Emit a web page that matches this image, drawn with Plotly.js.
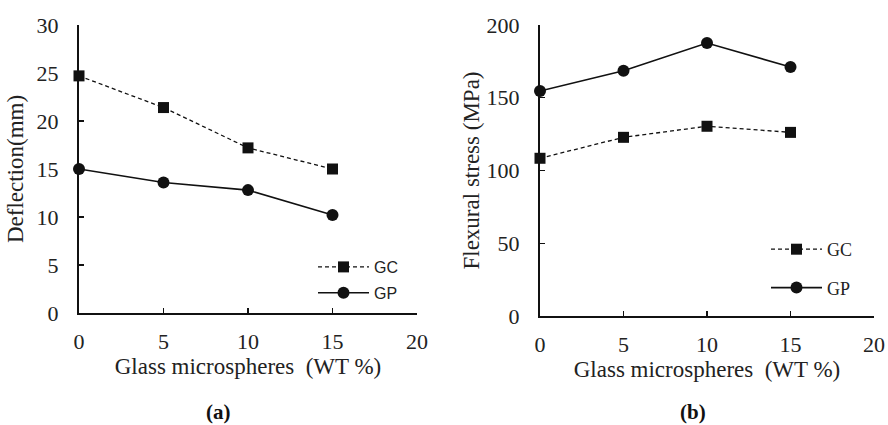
<!DOCTYPE html>
<html><head><meta charset="utf-8">
<script src="https://cdn.plot.ly/plotly-3.0.1.min.js"></script>
<style>html,body{margin:0;padding:0;background:#fff}</style>
</head><body><div id="chart" style="width:888px;height:425px"></div>
<script>
const wt = [0, 5, 10, 15];
const deflectionGC = [24.7, 21.4, 17.2, 15.0];
const deflectionGP = [15.0, 13.6, 12.8, 10.2];
const stressGC = [108.4, 122.8, 130.4, 126.2];
const stressGP = [154.6, 168.6, 187.6, 171.1];
const seriesNames = ['GC', 'GP'];
const xTitle = 'Glass microspheres\u00a0\u00a0(WT %)';
const yTitleA = 'Deflection(mm)';
const yTitleB = 'Flexural stress (MPa)';
const captions = ['<b>(a)</b>', '<b>(b)</b>'];

const serif = 'Liberation Serif, Times New Roman, serif';
const sans = 'Liberation Sans, Arial, sans-serif';
const ink = '#111';

function gc(x, y, xa, ya, lg) {
  return {x: x, y: y, xaxis: xa, yaxis: ya, name: seriesNames[0], legend: lg, legendgroup: lg + 'gc',
    type: 'scatter', mode: 'lines+markers', cliponaxis: false,
    line: {color: ink, width: 1.3, dash: '4px,3px'},
    marker: {symbol: 'square', size: 11, color: ink}};
}
function gp(x, y, xa, ya, lg) {
  return {x: x, y: y, xaxis: xa, yaxis: ya, name: seriesNames[1], legend: lg, legendgroup: lg + 'gp',
    type: 'scatter', mode: 'lines+markers', cliponaxis: false,
    line: {color: ink, width: 1.6},
    marker: {symbol: 'circle', size: 12, color: ink}};
}

const data = [
  gc(wt, deflectionGC, 'x', 'y', 'legend'),
  gp(wt, deflectionGP, 'x', 'y', 'legend'),
  gc(wt, stressGC, 'x2', 'y2', 'legend2'),
  gp(wt, stressGP, 'x2', 'y2', 'legend2')
];

function xax(dom, anchor) {
  return {domain: dom, anchor: anchor, range: [0, 20], dtick: 5, tick0: 0,
    showline: true, linewidth: 2, linecolor: ink, ticks: 'inside', ticklen: 5, tickwidth: 1.2, tickcolor: ink,
    showgrid: false, zeroline: false, ticklabelstandoff: 8,
    tickfont: {family: serif, size: 22, color: '#222'},
    title: {text: xTitle, font: {family: serif, size: 23, color: '#222'}, standoff: 0}};
}
function yax(dom, anchor, range, dtick, title, standoff) {
  return {domain: dom, anchor: anchor, range: range, dtick: dtick, tick0: 0,
    showline: true, linewidth: 2, linecolor: ink, ticks: 'inside', ticklen: 5, tickwidth: 1.2, tickcolor: ink,
    showgrid: false, zeroline: false, ticklabelstandoff: 14,
    tickfont: {family: serif, size: 22, color: '#222'},
    title: {text: title, font: {family: serif, size: 23, color: '#222'}, standoff: standoff}};
}

const layout = {
  width: 888, height: 425, margin: {l: 0, r: 0, t: 0, b: 0},
  paper_bgcolor: '#fff', plot_bgcolor: 'rgba(0,0,0,0)',
  xaxis: xax([79/888, 417/888], 'y'),
  yaxis: yax([112/425, 400/425], 'x', [0, 30], 5, yTitleA, 7),
  xaxis2: xax([540/888, 874/888], 'y2'),
  yaxis2: yax([109/425, 400/425], 'x2', [0, 200], 50, yTitleB, 1),
  legend: {x: 313/888, xanchor: 'left', y: 175/425, yanchor: 'top', bgcolor: 'rgba(0,0,0,0)',
    font: {family: sans, size: 16, color: '#222'}, itemwidth: 51, tracegroupgap: 2},
  legend2: {x: 766/888, xanchor: 'left', y: 194/425, yanchor: 'top', bgcolor: 'rgba(0,0,0,0)',
    font: {family: serif, size: 18, color: '#222'}, itemwidth: 51, tracegroupgap: 12},
  annotations: [
    {text: captions[0], xref: 'paper', yref: 'paper', x: 218/888, y: 13/425, xanchor: 'center', yanchor: 'middle',
     showarrow: false, font: {family: serif, size: 21, color: '#111'}},
    {text: captions[1], xref: 'paper', yref: 'paper', x: 693/888, y: 13/425, xanchor: 'center', yanchor: 'middle',
     showarrow: false, font: {family: serif, size: 21, color: '#111'}}
  ]
};

Plotly.newPlot('chart', data, layout, {displayModeBar: false, staticPlot: true});
</script></body></html>
